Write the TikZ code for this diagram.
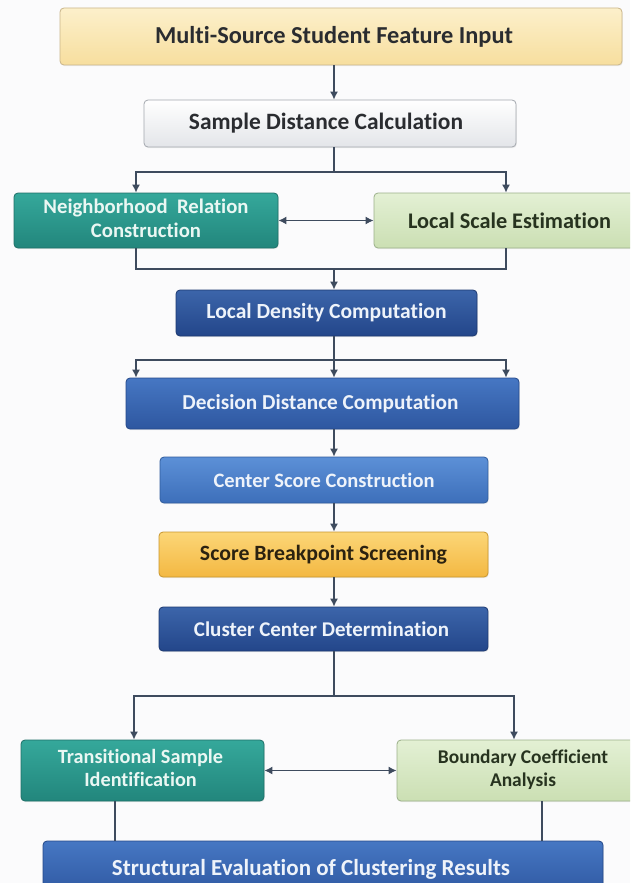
\documentclass[tikz,border=0pt]{standalone}
\usepackage{fontspec}
\setmainfont{Carlito}[Ligatures=NoCommon]
\usetikzlibrary{arrows.meta,shadows}

% palette
\definecolor{pagebg}{HTML}{FBFBFC}
\definecolor{wire}{HTML}{3E4B5E}
\definecolor{darktxt}{HTML}{2A2C30}
\definecolor{lighttxt}{HTML}{EEF3FA}
\definecolor{creamT}{HTML}{FCF0CB}\definecolor{creamB}{HTML}{F7DE9E}\definecolor{creamD}{HTML}{C9B58A}
\definecolor{paperB}{HTML}{E3E5E9}\definecolor{paperD}{HTML}{A3A7AE}
\definecolor{tealT}{HTML}{35A89B}\definecolor{tealB}{HTML}{22867C}\definecolor{tealD}{HTML}{1E6F67}\definecolor{tealX}{HTML}{EAF7F3}
\definecolor{sageT}{HTML}{E3F0D4}\definecolor{sageB}{HTML}{CBDFB3}\definecolor{sageD}{HTML}{9BB08A}\definecolor{sageX}{HTML}{27331F}
\definecolor{navyT}{HTML}{3C65AA}\definecolor{navyB}{HTML}{23468A}\definecolor{navyD}{HTML}{1C3870}
\definecolor{royalT}{HTML}{4677C3}\definecolor{royalB}{HTML}{2E57A0}\definecolor{royalD}{HTML}{244888}
\definecolor{skyT}{HTML}{5C90D7}\definecolor{skyB}{HTML}{3D6FBA}\definecolor{skyD}{HTML}{2F5C9C}
\definecolor{amberT}{HTML}{FCD677}\definecolor{amberB}{HTML}{F3B842}\definecolor{amberD}{HTML}{C8962E}\definecolor{amberX}{HTML}{2B2210}

\newcommand{\fitto}[2]{\resizebox{#1}{!}{#2}}
\newcommand{\twolines}[2]{\begin{tabular}{@{}c@{}}#1\\#2\end{tabular}}
% nudge a label sideways inside its box (negative = left)
\newcommand{\nudge}[2]{\ifdim#1<0pt\relax#2\hspace*{-2\dimexpr#1\relax}\else\hspace*{2\dimexpr#1\relax}#2\fi}

\begin{document}
\begin{tikzpicture}[x=1pt,y=-1pt,
  box/.style={rectangle, rounded corners=4pt, line width=0.8pt, inner sep=0pt,
    align=center, font=\fontsize{19}{22}\selectfont\bfseries,
    drop shadow={opacity=0.12, shadow xshift=0.8pt, shadow yshift=-1.2pt}},
  cream/.style={box, top color=creamT, bottom color=creamB, draw=creamD, text=darktxt},
  paper/.style={box, top color=white, bottom color=paperB, draw=paperD, text=darktxt},
  teal/.style={box, top color=tealT, bottom color=tealB, draw=tealD, text=tealX},
  sage/.style={box, top color=sageT, bottom color=sageB, draw=sageD, text=sageX},
  navy/.style={box, top color=navyT, bottom color=navyB, draw=navyD, text=lighttxt},
  royal/.style={box, top color=royalT, bottom color=royalB, draw=royalD, text=lighttxt},
  sky/.style={box, top color=skyT, bottom color=skyB, draw=skyD, text=lighttxt},
  amber/.style={box, top color=amberT, bottom color=amberB, draw=amberD, text=amberX},
  link/.style={draw=wire, line width=1.3pt},
  arr/.style={link, -{Latex[length=8pt,width=8pt]}},
  darr/.style={link, {Latex[length=8pt,width=8pt]}-{Latex[length=8pt,width=8pt]}}
]
\clip (0,0) rectangle (630,883);
\useasboundingbox (0,0) rectangle (630,883);
\fill[pagebg] (0,0) rectangle (630,883);

% vertical guides for the connector lanes
\coordinate (sp) at (334,0);
\coordinate (xl) at (136,0);
\coordinate (xr) at (506,0);
\coordinate (xl2) at (134,0);
\coordinate (xr2) at (514,0);
\coordinate (xl3) at (115,0);
\coordinate (xr3) at (542,0);

% blocks
\node[cream, minimum width=562pt, minimum height=57pt] (in) at (341,36.5)
  {\nudge{-7pt}{\fitto{358pt}{Multi-Source Student Feature Input}}};
\node[paper, minimum width=372pt, minimum height=47pt] (dist) at (330,123.5)
  {\nudge{-4pt}{\fitto{274pt}{Sample Distance Calculation}}};
\node[teal, minimum width=264pt, minimum height=55pt] (nbr) at (146,220.5)
  {\fitto{205pt}{\twolines{Neighborhood\ \ Relation}{Construction}}};
\node[sage, minimum width=271pt, minimum height=55pt] (scale) at (509.5,220.5)
  {\fitto{203pt}{Local Scale Estimation}};
\node[navy, minimum width=301pt, minimum height=46pt] (dens) at (326.5,313)
  {\fitto{240pt}{Local Density Computation}};
\node[royal, minimum width=393pt, minimum height=51pt] (dec) at (322.5,403.5)
  {\nudge{-2pt}{\fitto{276pt}{Decision Distance Computation}}};
\node[sky, minimum width=328pt, minimum height=46pt] (cs) at (324,480)
  {\fitto{221pt}{Center Score Construction}};
\node[amber, minimum width=329pt, minimum height=45pt] (sb) at (323.5,554.5)
  {\fitto{247pt}{Score Breakpoint Screening}};
\node[navy, minimum width=329pt, minimum height=44pt] (cc) at (323.5,629)
  {\nudge{-2pt}{\fitto{255pt}{Cluster Center Determination}}};
\node[teal, minimum width=243pt, minimum height=61pt] (trans) at (142.5,770.5)
  {\nudge{-2pt}{\fitto{165pt}{\twolines{Transitional Sample}{Identification}}}};
\node[sage, minimum width=252pt, minimum height=61pt] (bound) at (523,770.5)
  {\fitto{170pt}{\twolines{Boundary Coefficient}{Analysis}}};
\node[royal, minimum width=560pt, minimum height=56pt] (eval) at (323,869)
  {\nudge{-12pt}{\fitto{398pt}{Structural Evaluation of Clustering Results}}};

% junction points
\coordinate (j1) at (334,172);
\coordinate (j2) at (334,269);
\coordinate (j3) at (334,360);
\coordinate (j4) at (334,696);

% connectors
\draw[arr] (in.south -| sp) -- (dist.north -| sp);
\draw[link] (dist.south -| sp) -- (j1);
\draw[arr] (j1) -| (nbr.north -| xl);
\draw[arr] (j1) -| (scale.north -| xr);
\draw[darr] (nbr.east) -- (scale.west);
\draw[link] (nbr.south -| xl) |- (j2);
\draw[link] (scale.south -| xr) |- (j2);
\draw[arr] (j2) -- (dens.north -| sp);
\draw[arr] (dens.south -| sp) -- (dec.north -| sp);
\draw[arr] (j3) -| (dec.north -| xl);
\draw[arr] (j3) -| (dec.north -| xr);
\draw[arr] (dec.south -| sp) -- (cs.north -| sp);
\draw[arr] (cs.south -| sp) -- (sb.north -| sp);
\draw[arr] (sb.south -| sp) -- (cc.north -| sp);
\draw[link] (cc.south -| sp) -- (j4);
\draw[arr] (j4) -| (trans.north -| xl2);
\draw[arr] (j4) -| (bound.north -| xr2);
\draw[darr] (trans.east) -- (bound.west);
\draw[link] (trans.south -| xl3) -- (eval.north -| xl3);
\draw[link] (bound.south -| xr3) -- (eval.north -| xr3);
\end{tikzpicture}
\end{document}
